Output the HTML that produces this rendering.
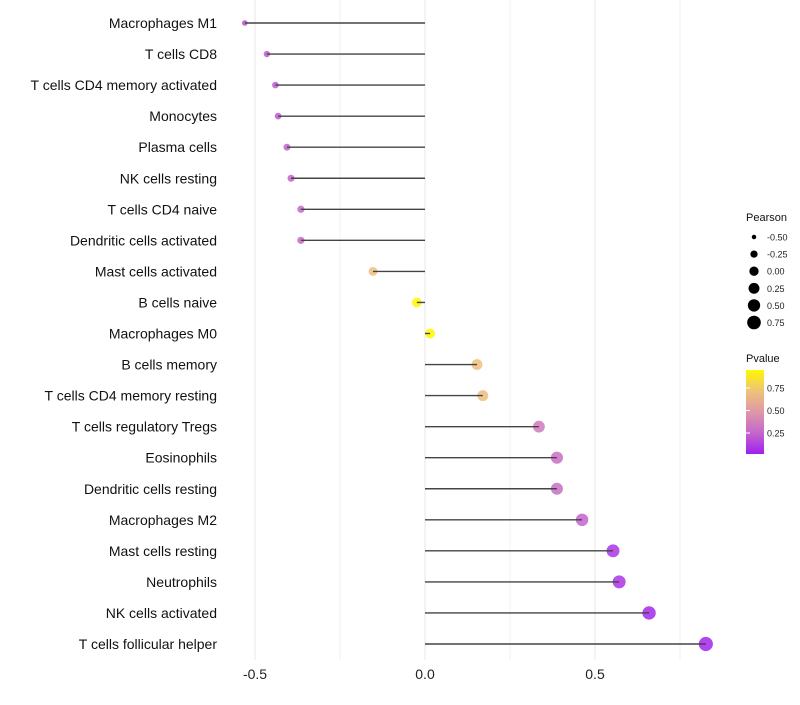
<!DOCTYPE html>
<html><head><meta charset="utf-8"><style>
body{margin:0;background:#fff;font-family:"Liberation Sans",sans-serif}
</style></head><body>
<svg id="c" width="800" height="700" xmlns="http://www.w3.org/2000/svg" font-family="Liberation Sans, sans-serif">
<defs><linearGradient id="pg" x1="0" y1="1" x2="0" y2="0">
<stop offset="0" stop-color="#A020F0"/><stop offset="0.25" stop-color="#C466CC"/><stop offset="0.5" stop-color="#DE98A6"/><stop offset="0.75" stop-color="#EFC27A"/><stop offset="1" stop-color="#FFF700"/></linearGradient></defs>
</svg>
<script>
const categories=["Macrophages M1","T cells CD8","T cells CD4 memory activated","Monocytes","Plasma cells","NK cells resting","T cells CD4 naive","Dendritic cells activated","Mast cells activated","B cells naive","Macrophages M0","B cells memory","T cells CD4 memory resting","T cells regulatory  Tregs ","Eosinophils","Dendritic cells resting","Macrophages M2","Mast cells resting","Neutrophils","NK cells activated","T cells follicular helper"];
const pearson=[-0.53,-0.465,-0.44,-0.432,-0.406,-0.394,-0.365,-0.365,-0.153,-0.024,0.015,0.153,0.17,0.335,0.388,0.388,0.462,0.553,0.571,0.659,0.826];
const pvalue=[0.2,0.21,0.22,0.22,0.24,0.25,0.27,0.27,0.7,0.97,0.97,0.7,0.69,0.35,0.3,0.3,0.25,0.1,0.1,0.06,0.05];
const xTicks=[-0.5,0,0.5];
const xTickLabels=["-0.5","0.0","0.5"];
const xMinor=[-0.25,0.25,0.75];
const sizeLegend=[-0.5,-0.25,0,0.25,0.5,0.75];
const sizeLegendLabels=["-0.50","-0.25","0.00","0.25","0.50","0.75"];
const pLegend=[0.25,0.5,0.75];

const NS="http://www.w3.org/2000/svg";
const svg=document.getElementById('c');
const x=v=>425+v*340;
const y=i=>23+i*31.05;
const r=v=>Math.sqrt(Math.max(4,24.5+30.9*v));
const rl=v=>Math.sqrt(Math.max(4,4+(v+0.53)*33.1));
function hex(c){return[parseInt(c.slice(1,3),16),parseInt(c.slice(3,5),16),parseInt(c.slice(5,7),16)];}
const stops=[[0,"#A020F0"],[0.25,"#C466CC"],[0.5,"#DE98A6"],[0.75,"#EFC27A"],[1,"#FFF700"]];
function col(p){const t=Math.min(1,Math.max(0,(p-0.03)/0.92));for(let k=0;k<stops.length-1;k++){if(t<=stops[k+1][0]){const f=(t-stops[k][0])/(stops[k+1][0]-stops[k][0]);const a=hex(stops[k][1]),b=hex(stops[k+1][1]);return `rgb(${a.map((v,j)=>Math.round(v+(b[j]-v)*f)).join(',')})`;}}return stops[4][1];}
function mk(tag,attrs,text){const e=document.createElementNS(NS,tag);for(const k in attrs)e.setAttribute(k,attrs[k]);if(text!==undefined)e.textContent=text;svg.appendChild(e);return e;}

xMinor.forEach(v=>{const e=mk('line',{x1:x(v),x2:x(v),y1:0,y2:660,stroke:'#f2f2f2','stroke-width':1});

});
xTicks.forEach((v,i)=>{const e=mk('line',{x1:x(v),x2:x(v),y1:0,y2:660,stroke:'#ebebeb','stroke-width':1.2});


const t=mk('text',{x:x(v),y:679,'text-anchor':'middle','font-size':14,fill:'#222'},xTickLabels[i]);

});

categories.forEach((c,i)=>{
const t=mk('text',{x:217,y:y(i)+5,'text-anchor':'end','font-size':14,fill:'#111'},c);


const d=mk('circle',{cx:x(pearson[i]),cy:y(i),r:r(pearson[i]),fill:col(pvalue[i]),'fill-opacity':0.85});


const l=mk('line',{x1:x(0),x2:x(pearson[i]),y1:y(i),y2:y(i),stroke:'#444','stroke-width':1.4});


});

const lt=mk('text',{x:746,y:221,'font-size':11,fill:'#111'},'Pearson');


sizeLegend.forEach((v,i)=>{const cy=237+i*17.1;
const d=mk('circle',{cx:754,cy:cy,r:rl(v),fill:'#000'});


const t=mk('text',{x:767,y:cy+3.5,'font-size':9,fill:'#222'},sizeLegendLabels[i]);

});

const pt=mk('text',{x:746,y:362,'font-size':11,fill:'#111'},'Pvalue');


const bar=mk('rect',{x:746,y:370,width:18,height:84,fill:'url(#pg)'});


const py=p=>433-(p-0.25)*90;
pLegend.forEach(p=>{
const tk=mk('line',{x1:746,x2:750,y1:py(p),y2:py(p),stroke:'#fff'});


const t=mk('text',{x:767,y:py(p)+3.5,'font-size':9,fill:'#222'},p.toFixed(2));

});
</script>
</body></html>
